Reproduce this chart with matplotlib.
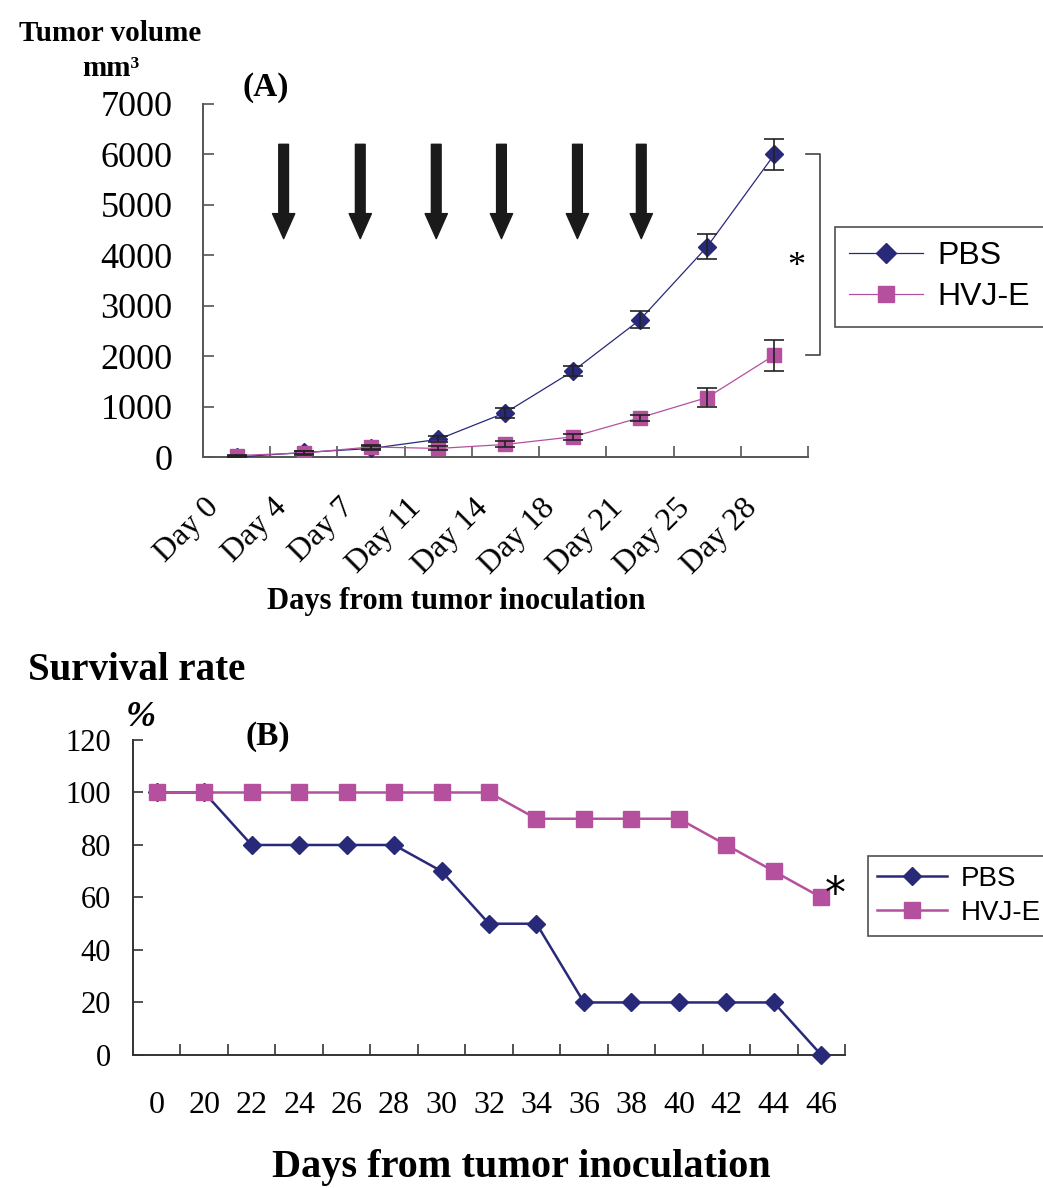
import matplotlib
matplotlib.use("Agg")
import matplotlib.pyplot as plt
import matplotlib.transforms as mtransforms

# ---- data, panel A (tumor volume) ----
days_a = ["Day 0", "Day 4", "Day 7", "Day 11", "Day 14", "Day 18", "Day 21", "Day 25", "Day 28"]
pbs_vol = [0, 90, 170, 350, 880, 1700, 2720, 4170, 6000]
pbs_err = [20, 30, 40, 60, 100, 100, 170, 250, 300]
hvj_vol = [30, 80, 200, 170, 250, 400, 780, 1180, 2020]
hvj_err = [20, 30, 40, 40, 60, 60, 60, 180, 310]
arrow_pos = [0.7, 1.84, 2.97, 3.94, 5.07, 6.02]  # injection arrows (category units)

# ---- data, panel B (survival) ----
days_b = ["0", "20", "22", "24", "26", "28", "30", "32", "34", "36", "38", "40", "42", "44", "46"]
pbs_surv = [100, 100, 80, 80, 80, 80, 70, 50, 50, 20, 20, 20, 20, 20, 0]
hvj_surv = [100, 100, 100, 100, 100, 100, 100, 100, 90, 90, 90, 90, 80, 70, 60]

NAVY = "#29297a"
MAGENTA = "#b4509e"
SERIF = "Liberation Serif"
SANS = "Liberation Sans"

plt.rcParams["font.family"] = SERIF

fig = plt.figure(figsize=(10.43, 11.88), dpi=100)

# ================= panel A =================
ax1 = fig.add_axes([0.1946, 0.6153, 0.7747 - 0.1946, 0.9125 - 0.6153])
xa = list(range(len(days_a)))
l1, = ax1.plot(xa, pbs_vol, color=NAVY, lw=0.9, marker="D", ms=9, label="PBS", zorder=3)
ax1.errorbar(xa, pbs_vol, yerr=pbs_err, fmt="none", ecolor="#222222", elinewidth=1.2,
             capsize=7, capthick=1.2, zorder=4)
l2, = ax1.plot(xa, hvj_vol, color=MAGENTA, lw=0.9, marker="s", ms=10, label="HVJ-E", zorder=3)
ax1.errorbar(xa, hvj_vol, yerr=hvj_err, fmt="none", ecolor="#222222", elinewidth=1.2,
             capsize=7, capthick=1.2, zorder=4)

ax1.set_xlim(-0.5, len(days_a) - 0.5)
ax1.set_ylim(0, 7000)
ax1.set_yticks(range(0, 7001, 1000))
ax1.tick_params(axis="y", direction="in", length=8, width=1.2, color="#555555", labelsize=26, pad=22)
ax1.set_xticks([i + 0.5 for i in range(len(days_a))], minor=True)
ax1.tick_params(axis="x", which="minor", direction="in", length=8, width=1.2, color="#555555")
ax1.set_xticks(xa)
ax1.set_xticklabels(days_a, rotation=45, ha="right", va="top", rotation_mode="anchor", fontsize=23)
ax1.tick_params(axis="x", which="major", length=0, pad=26)
off = mtransforms.ScaledTranslation(-32 / 100, 0, fig.dpi_scale_trans)
for lab in ax1.get_xticklabels():
    lab.set_transform(lab.get_transform() + off)
for s in ["top", "right"]:
    ax1.spines[s].set_visible(False)
for s in ["left", "bottom"]:
    ax1.spines[s].set_color("#555555")
    ax1.spines[s].set_linewidth(1.4)

for xp in arrow_pos:
    ax1.annotate("", xy=(xp, 4330), xytext=(xp, 6200),
                 arrowprops=dict(arrowstyle="simple,head_width=1.6,head_length=1.8,tail_width=0.7",
                                 color="#1a1a1a", shrinkA=0, shrinkB=0, mutation_scale=10))

# significance bracket
bx0, bx1 = 8.47, 8.68
ax1.plot([bx0, bx1, bx1, bx0], [pbs_vol[-1], pbs_vol[-1], hvj_vol[-1], hvj_vol[-1]],
         color="#444444", lw=1.2, clip_on=False)
ax1.text(8.33, 3750, "*", fontsize=26, ha="center", va="center")

leg1 = ax1.legend(handles=[l1, l2], loc="center left", bbox_to_anchor=(0.8006, 0.767),
                  bbox_transform=fig.transFigure, borderaxespad=0,
                  prop={"family": SANS, "size": 23}, frameon=True, fancybox=False, edgecolor="#222222",
                  handlelength=2.3, handletextpad=0.45, borderpad=0.45, labelspacing=0.35, markerscale=1.15)
leg1.get_frame().set_linewidth(1.2)

fig.text(0.106, 0.972, "Tumor volume", fontsize=21, fontweight="bold", ha="center", va="center")
fig.text(0.106, 0.942, "mm³", fontsize=21, fontweight="bold", ha="center", va="center")
fig.text(0.255, 0.926, "(A)", fontsize=24, fontweight="bold", ha="center", va="center")
fig.text(0.437, 0.494, "Days from tumor inoculation", fontsize=22, fontweight="bold", ha="center", va="center")

# ================= panel B =================
ax2 = fig.add_axes([0.1275, 0.1120, 0.8102 - 0.1275, 0.3771 - 0.1120])
xb = list(range(len(days_b)))
ax2.plot(xb, pbs_surv, color=NAVY, lw=1.8, marker="D", ms=9, label="PBS", clip_on=False, zorder=3)
ax2.plot(xb, hvj_surv, color=MAGENTA, lw=1.8, marker="s", ms=11, label="HVJ-E", clip_on=False, zorder=3)
ax2.set_xlim(-0.5, len(days_b) - 0.5)
ax2.set_ylim(0, 120)
ax2.set_yticks(range(0, 121, 20))
ax2.tick_params(axis="y", direction="in", length=7, width=1.2, color="#333333", labelsize=22, pad=16)
ax2.set_xticks([i + 0.5 for i in range(len(days_b))], minor=True)
ax2.tick_params(axis="x", which="minor", direction="in", length=8, width=1.2, color="#333333")
ax2.set_xticks(xb)
ax2.set_xticklabels(days_b, fontsize=23)
ax2.tick_params(axis="x", which="major", length=0, pad=26)
for s in ["top", "right"]:
    ax2.spines[s].set_visible(False)
for s in ["left", "bottom"]:
    ax2.spines[s].set_color("#333333")
    ax2.spines[s].set_linewidth(1.4)

ax2.text(14.3, 61, "*", fontsize=30, family="DejaVu Sans", ha="center", va="center")

leg2 = ax2.legend(loc="center left", bbox_to_anchor=(0.832, 0.2458), bbox_transform=fig.transFigure,
                  borderaxespad=0, prop={"family": SANS, "size": 20}, frameon=True, fancybox=False,
                  edgecolor="#222222", handlelength=2.5, handletextpad=0.5, borderpad=0.35, labelspacing=0.3)
leg2.get_frame().set_linewidth(1.2)

fig.text(0.027, 0.436, "Survival rate", fontsize=28, fontweight="bold", ha="left", va="center")
fig.text(0.135, 0.396, "%", fontsize=26, fontweight="bold", style="italic", ha="center", va="center")
fig.text(0.257, 0.380, "(B)", fontsize=24, fontweight="bold", ha="center", va="center")
fig.text(0.500, 0.017, "Days from tumor inoculation", fontsize=29, fontweight="bold",
         ha="center", va="center")

fig.savefig("out.png", dpi=100)
